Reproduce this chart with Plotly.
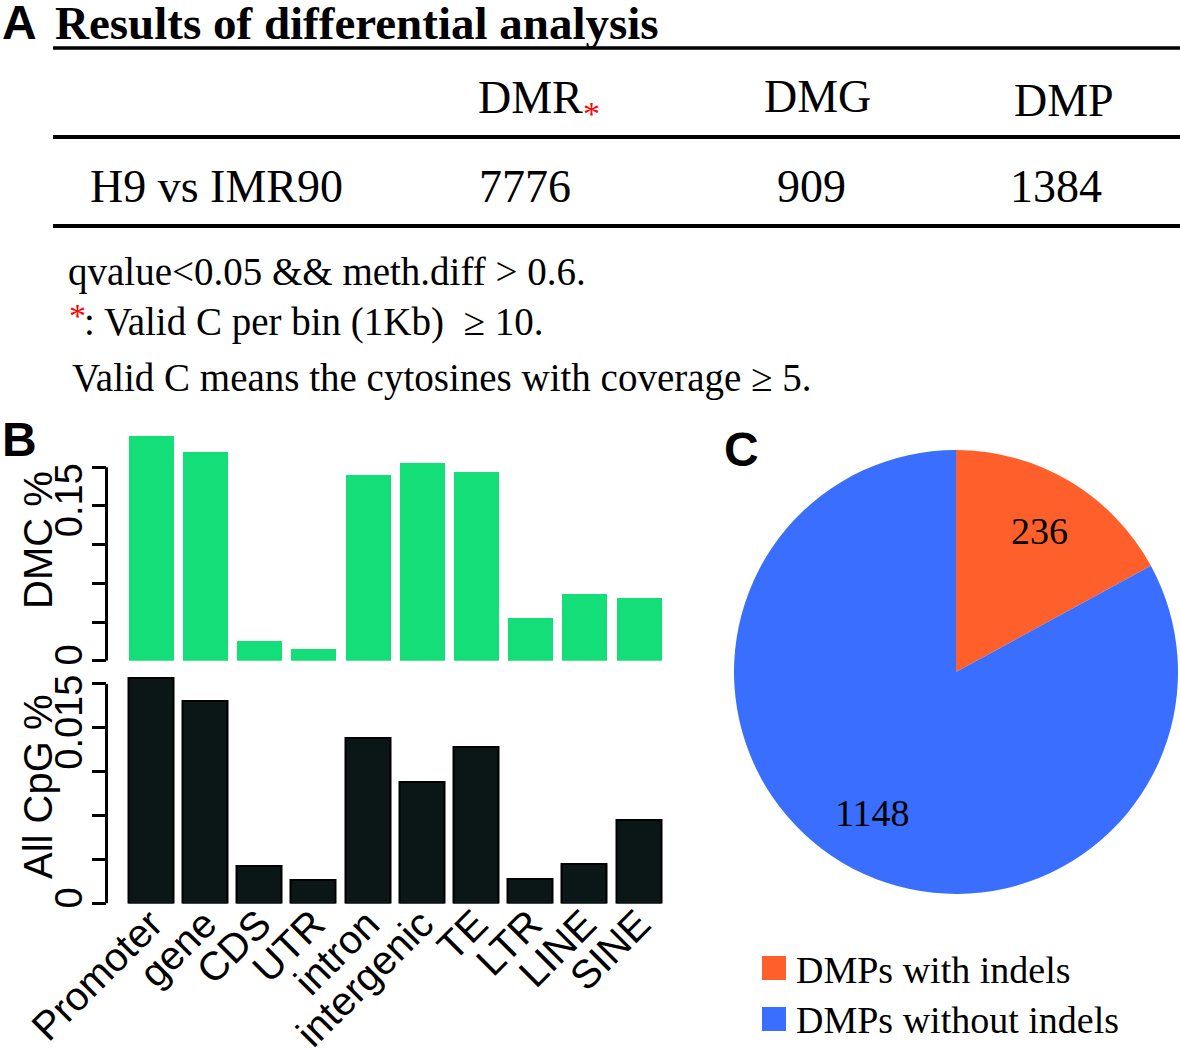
import math

import plotly.graph_objects as go

W, H = 1180, 1051

# panel A table
col_heads = ["DMR", "DMG", "DMP"]
row_name = "H9 vs IMR90"
row_values = [7776, 909, 1384]
notes = [
    "qvalue<0.05 && meth.diff > 0.6.",
    ": Valid C per bin (1Kb)\u00a0\u00a0≥ 10.",
    "Valid C means the cytosines with coverage ≥ 5.",
]

# panel B bars
regions = ["Promoter", "gene", "CDS", "UTR", "intron", "intergenic", "TE", "LTR", "LINE", "SINE"]
dmc_pct = [0.218, 0.202, 0.019, 0.011, 0.180, 0.1916, 0.1826, 0.0414, 0.0646, 0.0605]
cpg_pct = [0.01928, 0.01728, 0.00318, 0.00199, 0.01414, 0.01038, 0.01334, 0.0021, 0.00336, 0.00712]
dmc_ticks = [0, 0.0375, 0.075, 0.1125, 0.15, 0.1875]
dmc_ticktext = ["0", "", "", "", "0.15", ""]
cpg_ticks = [0, 0.00375, 0.0075, 0.01125, 0.015, 0.01875]
cpg_ticktext = ["0", "", "", "", "0.015", ""]

# panel C pie
pie_labels = ["DMPs with indels", "DMPs without indels"]
pie_values = [236, 1148]
pie_colors = ["#FF5F2B", "#3A6EFF"]

SANS = "Liberation Sans"
SERIF = "Liberation Serif"
GREEN = "#14DE77"
DARK = "#0B1717"

PIE_CX, PIE_CY, PIE_R = 956, 672, 222


def px(x):
    return x / W


def py(y):
    return 1 - y / H


fig = go.Figure()

fig.add_trace(
    go.Bar(
        x=regions, y=dmc_pct, width=0.83, marker={"color": GREEN, "line": {"width": 0}},
        xaxis="x", yaxis="y", showlegend=False,
    )
)
fig.add_trace(
    go.Bar(
        x=regions, y=cpg_pct, width=0.83, marker={"color": DARK, "line": {"color": "#000000", "width": 2}},
        xaxis="x2", yaxis="y2", showlegend=False,
    )
)
fig.add_trace(
    go.Pie(
        labels=pie_labels, values=pie_values, sort=False, direction="clockwise", rotation=0,
        marker={"colors": pie_colors, "line": {"width": 0}},
        textinfo="none",
        domain={"x": [px(PIE_CX - PIE_R), px(PIE_CX + PIE_R)], "y": [py(PIE_CY + PIE_R), py(PIE_CY - PIE_R)]},
        showlegend=False, hoverinfo="label+value",
    )
)

xr = [(106.5 - 150.7) / 54.22, (670 - 150.7) / 54.22]
axis_common = dict(showgrid=False, zeroline=False, showline=False, automargin=False)
fig.update_layout(
    width=W, height=H,
    margin={"l": 0, "r": 0, "t": 0, "b": 0, "pad": 0, "autoexpand": False},
    paper_bgcolor="white", plot_bgcolor="white",
    bargap=0,
    xaxis=dict(domain=[px(106.5), px(670)], range=xr, showticklabels=False, ticks="", anchor="y", **axis_common),
    yaxis=dict(
        domain=[py(660.7), py(428)], range=[0, 0.2255], anchor="x",
        tickvals=dmc_ticks, ticktext=dmc_ticktext, ticks="outside", ticklen=14, tickwidth=3, tickcolor="#000",
        tickangle=-90, ticklabelstandoff=-6, tickfont={"family": SANS, "size": 38, "color": "#000"}, **axis_common,
    ),
    xaxis2=dict(
        domain=[px(106.5), px(670)], range=xr, anchor="y2", ticks="", tickangle=-45, ticklabelstandoff=-12,
        tickfont={"family": SANS, "size": 40, "color": "#000"}, **axis_common,
    ),
    yaxis2=dict(
        domain=[py(903.5), py(674)], range=[0, 0.0196], anchor="x2",
        tickvals=cpg_ticks, ticktext=cpg_ticktext, ticks="outside", ticklen=14, tickwidth=3, tickcolor="#000",
        tickangle=-90, ticklabelstandoff=-6, tickfont={"family": SANS, "size": 38, "color": "#000"}, **axis_common,
    ),
)

shapes = []
# partial y axis lines, from 0 to last tick
shapes.append(dict(type="line", xref="x domain", yref="y", x0=0, x1=0, y0=0, y1=dmc_ticks[-1],
                   line={"color": "#000", "width": 3}))
shapes.append(dict(type="line", xref="x2 domain", yref="y2", x0=0, x1=0, y0=0, y1=cpg_ticks[-1],
                   line={"color": "#000", "width": 3}))
# table rules
for yy, lw in [(48, 3.5), (137, 4), (226, 4)]:
    shapes.append(dict(type="line", xref="paper", yref="paper", x0=px(53), x1=1, y0=py(yy), y1=py(yy),
                       line={"color": "#000", "width": lw}))
# pie legend swatches
for i, c in enumerate(pie_colors):
    top = 956 + i * 51
    shapes.append(dict(type="rect", xref="paper", yref="paper", x0=px(762), x1=px(786), y0=py(top + 24), y1=py(top),
                       fillcolor=c, line={"width": 0}))
fig.update_layout(shapes=shapes)

ann = []


def text(s, x, y, size, family=SERIF, color="#000", xanchor="left", bold=False, angle=0):
    if bold:
        s = "<b>" + s + "</b>"
    ann.append(dict(text=s, x=px(x), y=py(y), xref="paper", yref="paper", xanchor=xanchor, yanchor="middle",
                    showarrow=False, textangle=angle, font={"family": family, "size": size, "color": color}))


text("A", 0, 23, 48, SANS, bold=True)
text("Results of differential analysis", 53, 23, 47, bold=True)
for name, cx, cy in zip(col_heads, [530, 817, 1064], [98, 97, 101]):
    text(name, cx, cy, 46, xanchor="center")
text("*", 581, 113, 34, color="#FF0000")
text(row_name, 88, 186, 46)
for v, cx in zip(row_values, [525, 811, 1056]):
    text(str(v), cx, 186, 46, xanchor="center")
text(notes[0], 66, 272, 39)
text("*", 67, 316, 34, color="#FF0000")
text(notes[1], 82, 322, 39)
text(notes[2], 70, 378, 39)

text("B", 0, 440, 48, SANS, bold=True)
text("C", 722, 450, 48, SANS, bold=True)
text("DMC %", 38, 540, 40, SANS, xanchor="center", angle=-90)
text("All CpG %", 38, 787, 40, SANS, xanchor="center", angle=-90)

# pie slice values, placed at the middle angle of each slice
total = sum(pie_values)
start = 0.0
for v in pie_values:
    mid = (start + v / 2) / total * 2 * math.pi
    start += v
    r = 0.74 * PIE_R
    text(str(v), PIE_CX + r * math.sin(mid), PIE_CY - r * math.cos(mid), 38, xanchor="center")

for i, lab in enumerate(pie_labels):
    text(lab, 794, 970 + i * 50, 38)

fig.update_layout(annotations=ann)

fig.write_html(
    "out.html",
    config={"displayModeBar": False},
    post_script="document.body.style.margin = '0';",
)
